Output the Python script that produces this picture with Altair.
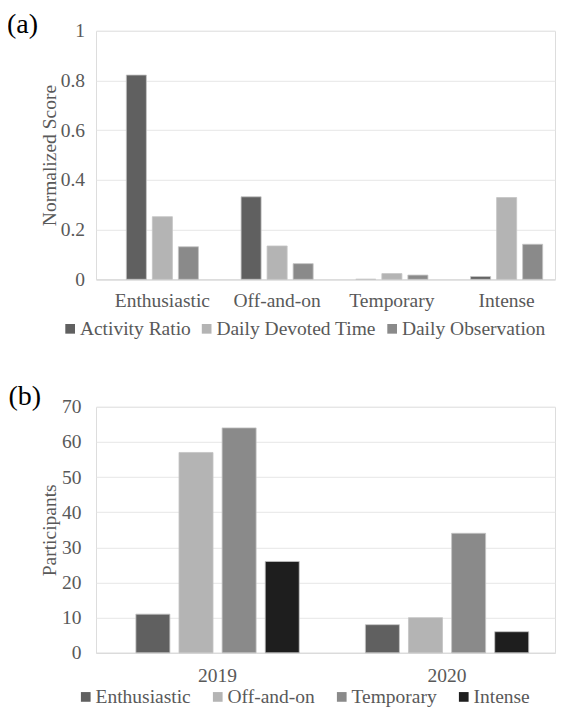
import altair as alt
import pandas as pd

# ---------- data (a) ----------
types = ["Enthusiastic", "Off-and-on", "Temporary", "Intense"]
metrics = ["Activity Ratio", "Daily Devoted Time", "Daily Observation"]
activity_ratio = [0.822, 0.332, 0.0, 0.011]
daily_devoted_time = [0.252, 0.134, 0.023, 0.329]
daily_observation = [0.131, 0.063, 0.017, 0.141]
score_ticks = [0, 0.2, 0.4, 0.6, 0.8, 1]

# ---------- data (b) ----------
years = ["2019", "2020"]
enthusiastic = [11, 8]
off_and_on = [57, 10]
temporary = [64, 34]
intense = [26, 6]
participant_ticks = [0, 10, 20, 30, 40, 50, 60, 70]

FONT = "Liberation Serif"
GRAY_TXT = "#595959"

rows_a = []
for m, vals in zip(metrics, [activity_ratio, daily_devoted_time, daily_observation]):
    for t, v in zip(types, vals):
        rows_a.append({"type": t, "metric": m, "value": v})
df_a = pd.DataFrame(rows_a)

rows_b = []
for t, vals in zip(types, [enthusiastic, off_and_on, temporary, intense]):
    for y, v in zip(years, vals):
        rows_b.append({"year": y, "type": t, "value": v})
df_b = pd.DataFrame(rows_b)


def y_axis(title, values, fmt, pad, h):
    return alt.Axis(
        title=title, values=values, format=fmt, domain=False, ticks=False,
        labelFont=FONT, labelFontSize=19.5, labelColor=GRAY_TXT, labelPadding=pad,
        titleFont=FONT, titleFontSize=19.5, titleColor=GRAY_TXT, titleFontWeight="normal",
        titleX=-47, titleY=h / 2, titleAngle=-90, titleAlign="center", titleBaseline="middle",
        gridColor="#e6e6e6", gridWidth=1,
    )


def x_axis(pad, shift):
    return alt.Axis(
        title=None, labelAngle=0, ticks=False, grid=False,
        domainColor="#d9d9d9", domainWidth=1, labelOffset=shift,
        labelFont=FONT, labelFontSize=19.5, labelColor=GRAY_TXT, labelPadding=pad,
    )


def legend(lx, ly, colpad):
    return alt.Legend(
        title=None, orient="none", legendX=lx, legendY=ly, direction="horizontal",
        symbolType="square", symbolSize=94, symbolStrokeWidth=0, padding=0,
        labelFont=FONT, labelFontSize=19.5, labelColor=GRAY_TXT, labelOffset=0,
        columnPadding=colpad,
    )


W = 459
HA = 248.5
bars_a = alt.Chart(df_a).mark_bar(stroke="#c4c4c4", strokeWidth=0.8).encode(
    x=alt.X("type:N", sort=types, axis=x_axis(12.5, 9),
            scale=alt.Scale(paddingInner=0, paddingOuter=0)),
    xOffset=alt.XOffset("metric:N", sort=metrics,
                        scale=alt.Scale(paddingInner=0.23, paddingOuter=0.82, align=0.711)),
    y=alt.Y("value:Q", scale=alt.Scale(domain=[0, 1]),
            axis=y_axis("Normalized Score", score_ticks, "~g", 11.5, HA)),
    color=alt.Color("metric:N", sort=metrics,
                    scale=alt.Scale(domain=metrics, range=["#606060", "#b4b4b4", "#8a8a8a"]),
                    legend=legend(-35.6, 287.9, 5.5)),
)
label_a = alt.Chart(pd.DataFrame({"t": ["(a)"]})).mark_text(
    font=FONT, fontSize=28, color="#000000", align="left", baseline="alphabetic"
).encode(x=alt.value(-89), y=alt.value(2), text="t:N")
chart_a = alt.layer(bars_a, label_a).properties(width=W, height=HA)

HB = 246
bars_b = alt.Chart(df_b).mark_bar(stroke="#c4c4c4", strokeWidth=0.8).encode(
    x=alt.X("year:N", sort=years, axis=x_axis(13.9, 6.8),
            scale=alt.Scale(paddingInner=0, paddingOuter=0)),
    xOffset=alt.XOffset("type:N", sort=types,
                        scale=alt.Scale(paddingInner=0.211, paddingOuter=0.767, align=0.603)),
    y=alt.Y("value:Q", scale=alt.Scale(domain=[0, 70]),
            axis=y_axis("Participants", participant_ticks, "d", 15, HB)),
    color=alt.Color("type:N", sort=types,
                    scale=alt.Scale(domain=types, range=["#606060", "#b4b4b4", "#8a8a8a", "#1e1e1e"]),
                    legend=legend(-20, 280, 17)),
)
label_b = alt.Chart(pd.DataFrame({"t": ["(b)"]})).mark_text(
    font=FONT, fontSize=28, color="#000000", align="left", baseline="alphabetic"
).encode(x=alt.value(-87.5), y=alt.value(-1.5), text="t:N")
chart_b = alt.layer(bars_b, label_b).properties(width=W, height=HB)

chart = alt.vconcat(chart_a, chart_b, spacing=43).resolve_scale(
    color="independent", x="independent", y="independent", xOffset="independent"
).properties(
    padding={"left": -2, "top": 1.8, "right": 0, "bottom": 0}
).configure_view(stroke=None).configure(background="white")

chart.save("out.html", embed_options={"renderer": "svg", "actions": False})
